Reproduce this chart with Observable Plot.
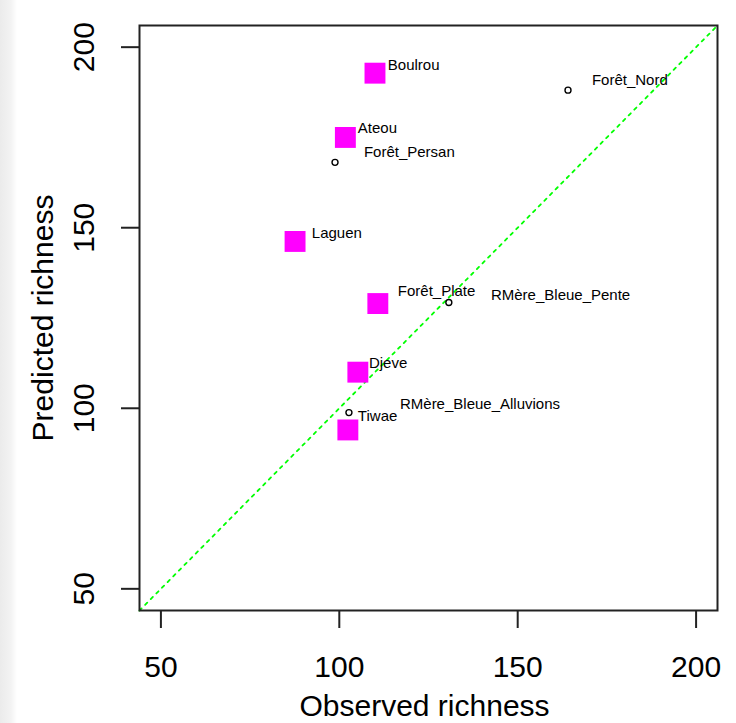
<!DOCTYPE html>
<html><head><meta charset="utf-8">
<script src="https://cdn.jsdelivr.net/npm/d3@7"></script>
<script src="https://cdn.jsdelivr.net/npm/@observablehq/plot@0.6"></script>
<style>
html,body{margin:0;padding:0;background:#fff;}
#wrap{width:736px;height:723px;background:linear-gradient(to right,#ebebeb 0px,#f3f3f3 11px,#ffffff 17px);}
#wrap svg{display:block;}
</style></head><body><div id="wrap"></div>
<script>
// Sites plotted as filled magenta squares
const squareObserved  = [110.0, 101.7, 87.6, 110.8, 105.2, 102.4];
const squarePredicted = [192.8, 175.0, 146.2, 129.0, 110.0, 94.0];
// Sites plotted as small open circles
const circleObserved  = [164.1, 98.8, 130.7, 102.7];
const circlePredicted = [188.1, 168.1, 129.3, 98.8];
// Site labels and where they sit (data units)
const siteLabels = ["Boulrou","Forêt_Nord","Ateou","Forêt_Persan","Laguen","Forêt_Plate","RMère_Bleue_Pente","Djeve","RMère_Bleue_Alluvions","Tiwae"];
const labelObserved  = [113.6, 170.8, 105.2, 106.9, 92.3, 116.4, 142.5, 108.3, 117.0, 105.2];
const labelPredicted = [195.0, 190.9, 177.5, 170.9, 148.4, 132.4, 131.2, 112.4, 101.0, 97.7];
// Axes
const tickValues = [50, 100, 150, 200];
const axisLimits = [44, 206];
const xTitle = "Observed richness";
const yTitle = "Predicted richness";

const squares = squareObserved.map((x, i) => ({x, y: squarePredicted[i]}));
const circles = circleObserved.map((x, i) => ({x, y: circlePredicted[i]}));
const labels = siteLabels.map((t, i) => ({t, x: labelObserved[i], y: labelPredicted[i]}));
const diag = axisLimits.map(v => ({v}));

const chart = Plot.plot({
  width: 736, height: 723,
  marginLeft: 139, marginRight: 19, marginTop: 25, marginBottom: 113,
  x: {domain: axisLimits, label: null},
  y: {domain: axisLimits, label: null},
  style: {background: "transparent", color: "black", fontFamily: "'Liberation Sans', Arial, sans-serif"},
  marks: [
    Plot.line(diag, {x: "v", y: "v", stroke: "#00ff00", strokeWidth: 1.8, strokeDasharray: "3,5"}),
    Plot.dot(squares, {x: "x", y: "y", symbol: "square", r: 11.8, fill: "#ff00ff", stroke: "none"}),
    Plot.dot(circles, {x: "x", y: "y", r: 3, fill: "none", stroke: "black", strokeWidth: 1.4}),
    Plot.text(labels, {x: "x", y: "y", text: "t", textAnchor: "start", fontSize: 15, fill: "black"}),
    Plot.frame({stroke: "#222", strokeWidth: 2}),
    Plot.axisX(tickValues, {tickSize: 18, tickPadding: 27, fontSize: 30, label: null, strokeWidth: 2, stroke: "#222"}),
    Plot.axisY(tickValues, {tickSize: 18, tickFormat: () => "", label: null, strokeWidth: 2, stroke: "#222"}),
    Plot.text(tickValues, {frameAnchor: "left", y: d => d, text: d => String(d), rotate: -90, textAnchor: "middle", dx: -46, lineAnchor: "bottom", fontSize: 30, fill: "black"}),
    Plot.text([xTitle], {frameAnchor: "bottom", text: d => d, dx: -4, dy: 105, lineAnchor: "bottom", fontSize: 30, fill: "black"}),
    Plot.text([yTitle], {frameAnchor: "left", text: d => d, rotate: -90, textAnchor: "middle", dx: -87, lineAnchor: "bottom", fontSize: 30, fill: "black"})
  ]
});
document.getElementById("wrap").appendChild(chart);
</script>
</body></html>
